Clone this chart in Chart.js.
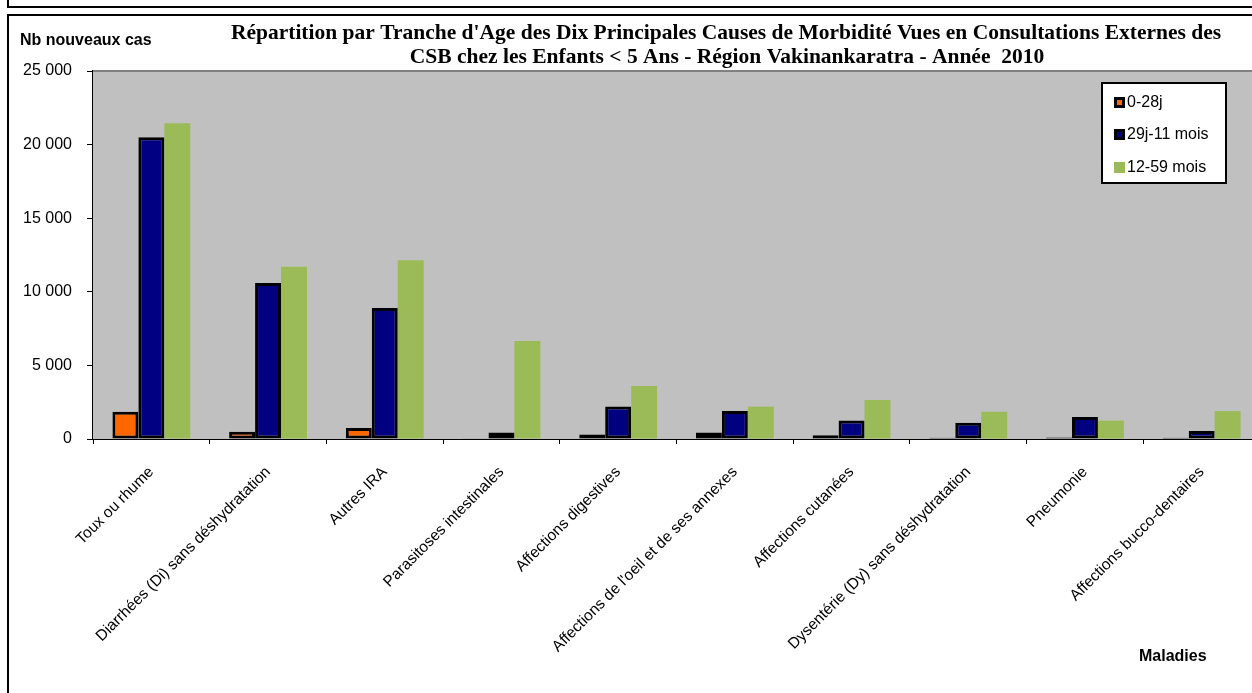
<!DOCTYPE html>
<html>
<head>
<meta charset="utf-8">
<script src="https://cdn.jsdelivr.net/npm/chart.js@4/dist/chart.umd.min.js"></script>
<style>
  html, body { margin: 0; padding: 0; background: #fff; overflow: hidden; }
  body { width: 1252px; height: 693px; position: relative; }
  .frameTop { position: absolute; left: 7px; top: -20px; width: 1300px; height: 24px; border: 2px solid #000; }
  .frame { position: absolute; left: 7px; top: 14px; width: 1300px; height: 720px; border: 2px solid #000; }
  #myChart { position: absolute; left: 0; top: 0; }
</style>
</head>
<body>
<div class="frameTop"></div>
<div class="frame"></div>
<canvas id="myChart" width="1262" height="693"></canvas>
<script>
var maladies = ['Toux ou rhume', 'Diarrhées (Di) sans déshydratation', 'Autres IRA',
                'Parasitoses intestinales', 'Affections digestives',
                "Affections de l'oeil et de ses annexes", 'Affections cutanées',
                'Dysentérie (Dy) sans déshydratation', 'Pneumonie', 'Affections bucco-dentaires']

var cas_0_28j = [1850, 500, 750, 15, 300, 450, 250, 90, 100, 80]
var cas_29j_11mois = [20500, 10600, 8900, 450, 2200, 1900, 1250, 1100, 1500, 550]
var cas_12_59mois = [21450, 11700, 12150, 6650, 3600, 2200, 2650, 1850, 1250, 1900]

var titre = ["Répartition par Tranche d'Age des Dix Principales Causes de Morbidité Vues en Consultations Externes des",
             'CSB chez les Enfants < 5 Ans - Région Vakinankaratra - Année  2010']

function milliers(v){
    return String(v).replace(/\B(?=(\d{3})+(?!\d))/g, ' ')
}

// gray plot background, titles and the boxed legend
var decor = {
    id: 'decor',
    beforeDatasetsDraw: function(chart){
        var ctx = chart.ctx, a = chart.chartArea
        ctx.save()
        ctx.fillStyle = '#C0C0C0'
        ctx.fillRect(a.left, a.top, a.right - a.left, a.bottom - a.top)
        ctx.fillStyle = '#808080'
        ctx.fillRect(a.left, a.top - 1, a.right - a.left, 2)
        ctx.restore()
    },
    afterDraw: function(chart){
        var ctx = chart.ctx
        ctx.save()
        ctx.fillStyle = '#000'
        ctx.textBaseline = 'middle'
        ctx.textAlign = 'center'
        ctx.font = 'bold 21.5px "Liberation Serif", "Times New Roman", serif'
        ctx.fillText(titre[0], 726, 33)
        ctx.fillText(titre[1], 727, 57)

        ctx.font = 'bold 16px "Liberation Sans", Arial, sans-serif'
        ctx.textAlign = 'left'
        ctx.fillText('Nb nouveaux cas', 20, 41)
        ctx.fillText('Maladies', 1139, 657)

        // legend
        var lx = 1102, ly = 83, lw = 124, lh = 100
        ctx.fillStyle = '#fff'
        ctx.fillRect(lx, ly, lw, lh)
        ctx.lineWidth = 2
        ctx.strokeStyle = '#000'
        ctx.strokeRect(lx, ly, lw, lh)
        ctx.font = '16px "Liberation Sans", Arial, sans-serif'
        var rows = [102, 134, 167]
        chart.data.datasets.forEach(function(ds, i){
            var y = rows[i]
            if (ds.borderWidth > 0){
                ctx.fillStyle = '#000'
                ctx.fillRect(lx + 12, y - 5, 11, 11)
                ctx.fillStyle = ds.backgroundColor
                ctx.fillRect(lx + 15, y - 2, 5, 5)
            } else {
                ctx.fillStyle = ds.backgroundColor
                ctx.fillRect(lx + 12, y - 5, 11, 11)
            }
            ctx.fillStyle = '#000'
            ctx.fillText(ds.label, lx + 25, y + 1)
        })
        ctx.restore()
    }
}

var ctx = document.getElementById('myChart').getContext('2d')
var myChart = new Chart(ctx, {
    type: 'bar',
    data: {
        labels: maladies,
        datasets: [{
            label: '0-28j',
            data: cas_0_28j,
            backgroundColor: '#FF6600',
            borderColor: '#000',
            borderWidth: 3,
            borderSkipped: false
        }, {
            label: '29j-11 mois',
            data: cas_29j_11mois,
            backgroundColor: '#000080',
            borderColor: '#000',
            borderWidth: 3,
            borderSkipped: false
        }, {
            label: '12-59 mois',
            data: cas_12_59mois,
            backgroundColor: '#9BBB59',
            borderWidth: 0
        }]
    },
    options: {
        responsive: false,
        animation: false,
        layout: { padding: { top: 71, right: 2, left: 0, bottom: 0 } },
        datasets: { bar: { barPercentage: 1, categoryPercentage: 0.667 } },
        plugins: {
            legend: { display: false },
            title: { display: false },
            tooltip: { enabled: false }
        },
        scales: {
            x: {
                offset: true,
                grid: { display: true, drawOnChartArea: false, drawTicks: true, tickLength: 5, color: '#000', offset: true },
                border: { display: true, color: '#000', width: 2 },
                ticks: {
                    color: '#000',
                    font: { family: '"Liberation Sans", Arial, sans-serif', size: 15.5 },
                    minRotation: 45,
                    maxRotation: 45,
                    autoSkip: false,
                    padding: 19
                },
                afterFit: function(scale){ scale.height = 254 }
            },
            y: {
                min: 0,
                max: 25000,
                grid: { display: true, drawOnChartArea: false, drawTicks: true, tickLength: 6, color: '#000' },
                border: { display: true, color: '#000', width: 2 },
                ticks: {
                    stepSize: 5000,
                    color: '#000',
                    padding: 15,
                    font: { family: '"Liberation Sans", Arial, sans-serif', size: 16 },
                    callback: function(v){ return milliers(v) }
                },
                afterFit: function(scale){ scale.width = 93 }
            }
        }
    },
    plugins: [decor]
})
</script>
</body>
</html>
